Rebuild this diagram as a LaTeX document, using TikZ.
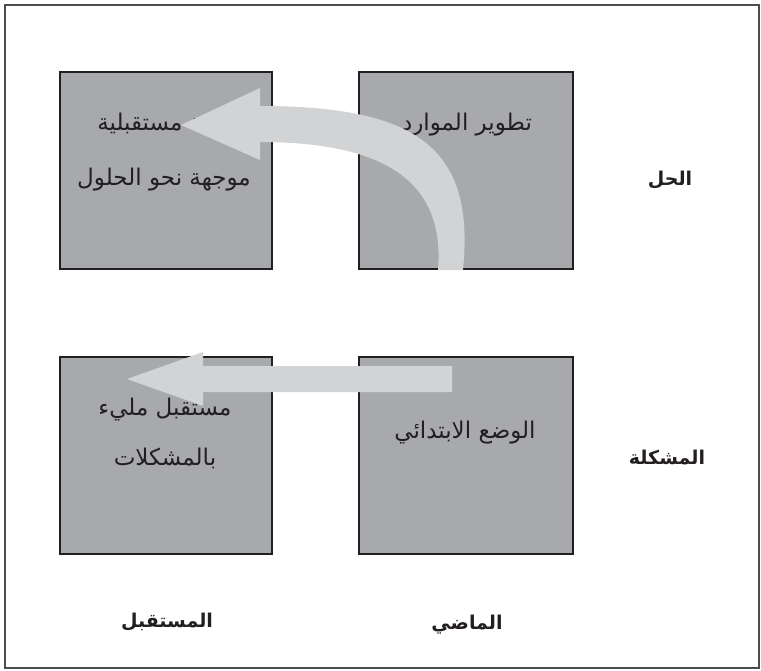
\documentclass[tikz,border=0pt]{standalone}
\usepackage{fontspec}
\usetikzlibrary{calc}
\TeXXeTstate=1
\newfontfamily\arabicfont[Script=Arabic]{DejaVu Sans}
\definecolor{boxfill}{HTML}{A7A9AC}
\definecolor{arrowfill}{HTML}{D1D3D4}
\definecolor{edgecol}{HTML}{231F20}
\definecolor{framecol}{HTML}{4D4D4F}
\begin{document}
\begin{tikzpicture}[x=1pt,y=-1pt,
  cell/.style={draw=edgecol, fill=boxfill, line width=2pt, minimum width=212pt, minimum height=197pt, inner sep=0pt, outer sep=0pt},
  celltext/.style={font=\arabicfont\fontsize{23}{26}\selectfont, text=edgecol, inner sep=0pt},
  axislabel/.style={font=\arabicfont\bfseries\fontsize{19}{22}\selectfont, text=edgecol, inner sep=0pt},
  arrowbody/.style={fill=arrowfill, draw=none}]
\useasboundingbox (0,0) rectangle (761,670);
\fill[white] (0,0) rectangle (761,670);
\draw[framecol, line width=1.5pt] (5,5) rectangle (759,668);

% boxes
\node[cell] (tl) at (166,170) {};
\node[cell, minimum width=214pt] (tr) at (466,170) {};
\node[cell] (bl) at (166,455) {};
\node[cell, minimum width=214pt] (br) at (466,455) {};

% box texts
\node[celltext] (tl1) at (164,125) {\beginR رؤية مستقبلية\endR};
\node[celltext] (tl2) at (164,180) {\beginR موجهة نحو الحلول\endR};
\node[celltext] (tr1) at (467,125) {\beginR تطوير الموارد\endR};
\node[celltext] (bl1) at (165,410) {\beginR مستقبل مليء\endR};
\node[celltext] (bl2) at (165,458) {\beginR بالمشكلات\endR};
\node[celltext] (br1) at (465,433) {\beginR الوضع الابتدائي\endR};

% axis labels
\node[axislabel] (sol) at (670,180) {\beginR الحل\endR};
\node[axislabel] (prob) at (667,457) {\beginR المشكلة\endR};
\node[axislabel] (past) at (467,625) {\beginR الماضي\endR};
\node[axislabel] (fut) at (167,622) {\beginR المستقبل\endR};

% straight arrow (initial situation -> future full of problems)
\coordinate (sa) at (452,379);
\coordinate (sb) at (127,379);
\fill[arrowbody] ($(sa)+(0,-13)$) -- (203,366) -- (203,352) -- (sb) -- (203,406) -- (203,392) -- ($(sa)+(0,13)$) -- cycle;

% curved arrow (resource development -> solution oriented future)
\coordinate (ca) at (450,270);
\coordinate (cb) at (181,125);
\fill[arrowbody] (260,106) -- (260,88) -- (cb) -- (260,160) -- (260,142)
  .. controls (390,142) and (445,185) .. (438,270)
  -- (463,270)
  .. controls (475,150) and (420,106) .. (260,106) -- cycle;
\end{tikzpicture}
\end{document}
